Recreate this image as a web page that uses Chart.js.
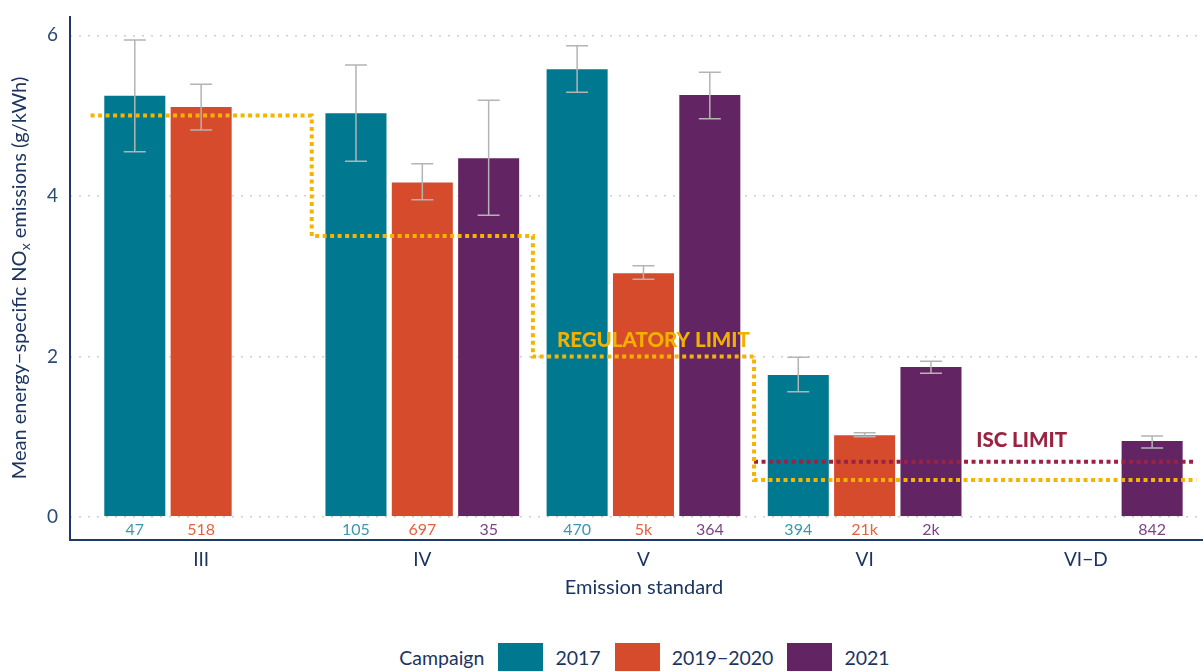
<!DOCTYPE html>
<html>
<head>
<meta charset="utf-8">
<script src="https://cdn.jsdelivr.net/npm/chart.js@4"></script>
<style>
  body { margin: 0; background: #fff; font-family: Lato, sans-serif; }
  #wrap { position: relative; width: 1203px; height: 610px; }
  #legend { position: absolute; top: 643px; left: 44px; width: 1203px; height: 28px;
            display: flex; justify-content: center; align-items: center; color: #1c3560; font-size: 19.5px; }
  #legend .box { width: 45px; height: 28px; margin: 0 12px 0 12px; }
  #legend span.lbl { margin-right: 2px; }
</style>
</head>
<body>
<div id="wrap"><canvas id="chart"></canvas></div>
<div id="legend"></div>
<script>
// emission standards on the x axis
const categories = ["III", "IV", "V", "VI", "VI\u2212D"];
const seriesNames = ["2017", "2019\u22122020", "2021"];

// mean energy-specific NOx (g/kWh) with error bar bounds
const mean2017 = [5.26, 5.04, 5.59, 1.78, null];
const low2017  = [4.55, 4.43, 5.29, 1.56, null];
const high2017 = [5.94, 5.63, 5.87, 1.99, null];

const mean2019 = [5.12, 4.18, 3.05, 1.03, null];
const low2019  = [4.82, 3.95, 2.96, 1.00, null];
const high2019 = [5.39, 4.40, 3.13, 1.05, null];

const mean2021 = [null, 4.48, 5.27, 1.88, 0.96];
const low2021  = [null, 3.76, 4.96, 1.79, 0.86];
const high2021 = [null, 5.19, 5.54, 1.94, 1.01];

// sample counts shown under the bars
const count2017 = ["47", "105", "470", "394", null];
const count2019 = ["518", "697", "5k", "21k", null];
const count2021 = [null, "35", "364", "2k", "842"];

// limits per standard
const regulatoryLimit = [5.0, 3.5, 2.0, 0.46, 0.46];
const iscLimit = [null, null, null, 0.69, 0.69];

const yTicks = [0, 2, 4, 6];

const colors = ["#00788f", "#d64b2c", "#622462"];
const countColors = ["#3a97ad", "#e5613f", "#7a4585"];
const navy = "#1c3560";

const means = [mean2017, mean2019, mean2021];
const lows = [low2017, low2019, low2021];
const highs = [high2017, high2019, high2021];
const counts = [count2017, count2019, count2021];

// step line: each limit covers its category from i-0.5 to i+0.5
function stepPoints(vals) {
  const pts = [];
  vals.forEach((v, i) => {
    if (v == null) return;
    pts.push({ x: i - 0.5, y: v }, { x: i + 0.5, y: v });
  });
  return pts;
}

const barSets = seriesNames.map((name, s) => ({
  type: "bar",
  label: name,
  data: categories.map((c, i) => ({ x: i, y: means[s][i] })),
  backgroundColor: colors[s],
  borderColor: "rgba(255,255,255,0.6)",
  borderWidth: 1,
  categoryPercentage: 0.9,
  barPercentage: 0.95,
  order: 2
}));

const lineSets = [
  { type: "line", label: "ISC limit", data: stepPoints(iscLimit), borderColor: "#9b2342",
    borderWidth: 4, borderDash: [4, 3.5], pointRadius: 0, fill: false, order: 1 },
  { type: "line", label: "Regulatory limit", data: stepPoints(regulatoryLimit), borderColor: "#f4b400",
    borderWidth: 4, borderDash: [4, 3.5], pointRadius: 0, fill: false, order: 0 }
];

const overlay = {
  id: "overlay",
  afterDatasetDraw(chart, args) {
    const s = args.index;
    if (s > 2) return;
    const { ctx, scales: { y } } = chart;
    ctx.save();
    ctx.strokeStyle = "#b4b4b4";
    ctx.lineWidth = 1.5;
    args.meta.data.forEach((bar, i) => {
      if (means[s][i] == null) return;
      const yt = y.getPixelForValue(highs[s][i]);
      const yb = y.getPixelForValue(lows[s][i]);
      ctx.beginPath();
      ctx.moveTo(bar.x, yt); ctx.lineTo(bar.x, yb);
      ctx.moveTo(bar.x - 11, yt); ctx.lineTo(bar.x + 11, yt);
      ctx.moveTo(bar.x - 11, yb); ctx.lineTo(bar.x + 11, yb);
      ctx.stroke();
    });
    ctx.restore();
  },
  afterDatasetsDraw(chart) {
    const { ctx, chartArea, scales: { x, y } } = chart;
    ctx.save();
    ctx.textAlign = "center";
    ctx.textBaseline = "middle";
    ctx.font = "16px Lato";
    for (let s = 0; s < 3; s++) {
      const meta = chart.getDatasetMeta(s);
      meta.data.forEach((bar, i) => {
        if (counts[s][i] == null) return;
        ctx.fillStyle = countColors[s];
        ctx.fillText(counts[s][i], bar.x, chartArea.bottom - 10);
      });
    }
    ctx.font = "900 20.5px Lato";
    ctx.fillStyle = "#f2b100";
    ctx.fillText("REGULATORY LIMIT", x.getPixelForValue(2.045), y.getPixelForValue(2.2));
    ctx.fillStyle = "#9b2342";
    ctx.fillText("ISC LIMIT", x.getPixelForValue(3.71), y.getPixelForValue(0.96));
    ctx.restore();
  },
  afterDraw(chart) {
    const { ctx, chartArea } = chart;
    ctx.save();
    // axis lines
    ctx.strokeStyle = "#1d3a66";
    ctx.lineWidth = 2;
    ctx.beginPath();
    ctx.moveTo(chartArea.left, chartArea.top);
    ctx.lineTo(chartArea.left, chartArea.bottom);
    ctx.lineTo(chartArea.right, chartArea.bottom);
    ctx.stroke();
    // x title
    ctx.fillStyle = navy;
    ctx.font = "20px Lato";
    ctx.textAlign = "center";
    ctx.textBaseline = "middle";
    ctx.fillText("Emission standard", 644, 588);
    // y title with subscript
    const parts = [["Mean energy\u2212specific NO", "20px Lato", 0], ["x", "14px Lato", 5], [" emissions (g/kWh)", "20px Lato", 0]];
    let total = 0;
    parts.forEach(p => { ctx.font = p[1]; total += ctx.measureText(p[0]).width; });
    ctx.translate(20, (chartArea.top + chartArea.bottom) / 2);
    ctx.rotate(-Math.PI / 2);
    ctx.textAlign = "left";
    let pos = -total / 2;
    parts.forEach(p => {
      ctx.font = p[1];
      ctx.fillText(p[0], pos, p[2]);
      pos += ctx.measureText(p[0]).width;
    });
    ctx.restore();
  }
};

new Chart(document.getElementById("chart"), {
  data: { datasets: [...barSets, ...lineSets] },
  options: {
    responsive: true,
    maintainAspectRatio: false,
    animation: false,
    layout: { padding: { top: 16, right: 0, left: 0, bottom: 0 } },
    plugins: { legend: { display: false }, tooltip: { enabled: false } },
    scales: {
      x: {
        type: "linear",
        offset: false,
        min: -0.593,
        max: 4.53,
        afterBuildTicks: s => { s.ticks = categories.map((c, i) => ({ value: i })); },
        afterFit: s => { s.height = 70; s.paddingLeft = 0; s.paddingRight = 0; },
        ticks: { callback: v => categories[v], color: navy, font: { family: "Lato", size: 19 }, padding: 8, autoSkip: false, maxRotation: 0 },
        grid: { display: false, drawTicks: false },
        border: { display: false }
      },
      y: {
        min: -0.286,
        max: 6.24,
        afterBuildTicks: s => { s.ticks = yTicks.map(v => ({ value: v })); },
        afterFit: s => { s.width = 70; s.paddingTop = 0; s.paddingBottom = 0; },
        ticks: { color: "#2b4a70", font: { family: "Lato", size: 19 }, padding: 12 },
        grid: { color: "#cfcfcf", lineWidth: 1.5, drawTicks: false },
        border: { display: false, dash: [2, 7] }
      }
    }
  },
  plugins: [overlay]
});

// legend
const legend = document.getElementById("legend");
legend.innerHTML = '<span class="lbl">Campaign</span>' + seriesNames.map((n, i) =>
  '<span class="box" style="background:' + colors[i] + '"></span><span class="lbl">' + n + '</span>').join("");
</script>
</body>
</html>
